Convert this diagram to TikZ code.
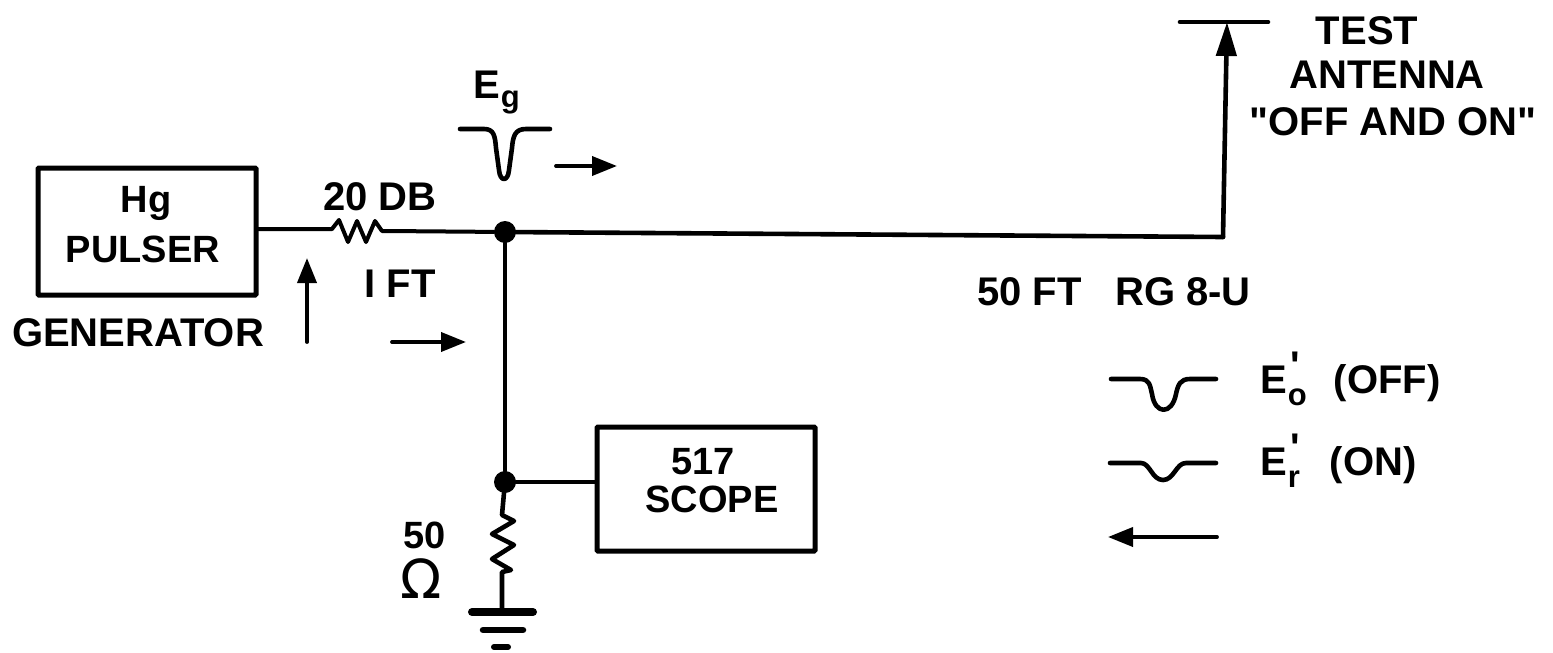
\documentclass[tikz,border=0pt]{standalone}
\usepackage{fontspec}
\setmainfont{Liberation Sans}
\newfontfamily\letfont{Liberation Sans}
\newfontfamily\omfont{DejaVu Sans}
\usetikzlibrary{arrows.meta}
\newcommand{\subtxt}[1]{\fontsize{31}{31}\selectfont #1}
\newcommand{\primesub}[1]{E\rlap{\hspace{4pt}\raisebox{14pt}{'}}\raisebox{-12pt}{\hspace{1pt}\subtxt{#1}}}
\tikzset{
  lbl/.style={inner sep=0pt,anchor=base,font=\letfont\bfseries\fontsize{40}{40}\selectfont,text=black},
  lbs/.style={lbl,font=\letfont\bfseries\fontsize{38}{38}\selectfont},
  blk/.style={draw=black,line width=5pt,fill=white,inner sep=0pt,rounded corners=1pt},
  wire/.style={draw=black,line width=4.6pt,line cap=round,line join=round},
  thin wire/.style={draw=black,line width=4pt,line cap=round,line join=round},
  dot/.style={circle,fill=black,inner sep=0pt,minimum size=22pt},
  flow/.style={draw=black,line width=3.8pt,line cap=round,-{Triangle[length=25pt,width=19pt]}},
}
\begin{document}
\begin{tikzpicture}[x=1pt,y=-1pt]
\useasboundingbox (0,0) rectangle (1553,653);
\node[blk,minimum width=218pt,minimum height=127pt] (pulser) at (147,231.5) {};
\node[blk,minimum width=218pt,minimum height=124pt] (scope) at (706,489) {};
\node[lbs] (hg) at (146,212) {Hg};
\node[lbs] (pulsertxt) at (143,262) {PULSER};
\node[lbl] (gen) at (138,346) {GENERATOR};
\node[lbl] (db) at (380,210) {20 DB};
\node[lbl] (ft) at (400,297) {I FT};
\node[lbs] (s517) at (703,474) {517};
\node[lbs] (scopetxt) at (712,512) {SCOPE};
\node[lbs] (fifty) at (425,548) {50};
\node[lbl,font=\omfont\fontsize{54}{54}\selectfont] (ohm) at (421,598) {Ω};
\node[lbl] (test) at (1367,44) {TEST};
\node[lbl] (ant) at (1387,88) {ANTENNA};
\node[lbl] (offon) at (1393,135) {"OFF AND ON"};
\node[lbl] (rg) at (1114,305) {50 FT\ \ \ RG 8-U};
\node[lbl,anchor=base west] (eg) at (473,98) {E\raisebox{-9pt}{\hspace{1pt}\subtxt{g}}};
\node[lbl,anchor=base west] (e0) at (1260,393) {\primesub{o}\hspace{27pt}(OFF)};
\node[lbl,anchor=base west] (er) at (1260,475) {\primesub{r}\hspace{30pt}(ON)};

\node[dot] (j1) at (505,232) {};
\node[dot] (j2) at (505,482) {};
\coordinate (r1a) at (327,229);
\coordinate (r1b) at (387,231);
\coordinate (r2a) at (502,515);
\coordinate (r2b) at (502,572);
\coordinate (bend) at (1223,237);
\coordinate (tip) at (1227,22);
\coordinate (gnd) at (502,612);
\draw[thin wire] (pulser.east |- r1a) -- (r1a)
  -- (332,229) -- (339,220) -- (348,242) -- (357,221) -- (366,242) -- (375,221) -- (382,231) -- (r1b) -- (j1);
\draw[wire] (j1) -- (bend);
\draw[wire,-{Triangle[length=34pt,width=20pt]}] (bend) -- (tip);
\draw[wire] (1180,22) -- (1268,22);
\draw[wire] (j1) -- (j2);
\draw[wire] (j2) -- (scope.west |- j2);
\draw[wire] (j2) -- (r2a) -- (514,521) -- (492,534) -- (514,545) -- (492,559) -- (511,570) -- (r2b) -- (gnd);
\draw[line width=8pt,line cap=round] (472,612) -- (533,612);
\draw[line width=6.5pt,line cap=round] (483,630) -- (523,630);
\draw[line width=6pt,line cap=round] (494,647) -- (508,647);
% pulses
\draw[wire] (460,129) -- (484,129) .. controls (494,129) and (495,136) .. (496,148) -- (499,170) .. controls (500,182) and (508,182) .. (509,170) -- (512,148) .. controls (513,136) and (515,129) .. (526,129) -- (550,129);
\draw[wire] (1111,379) -- (1140,379) .. controls (1150,379) and (1150,386) .. (1152,394) .. controls (1155,415) and (1172,415) .. (1176,394) .. controls (1178,385) and (1180,379) .. (1190,379) -- (1216,379);
\draw[wire] (1110,463) -- (1141,463) .. controls (1150,463) and (1152,480) .. (1163,480) .. controls (1174,480) and (1176,463) .. (1186,463) -- (1216,463);
% flow arrows
\coordinate (a1s) at (556,166); \coordinate (a1e) at (617,166);
\coordinate (a2s) at (307,342); \coordinate (a2e) at (307,258);
\coordinate (a3s) at (392,342); \coordinate (a3e) at (466,342);
\coordinate (a4s) at (1217,537); \coordinate (a4e) at (1108,537);
\draw[flow] (a1s) -- (a1e);
\draw[flow] (a2s) -- (a2e);
\draw[flow] (a3s) -- (a3e);
\draw[flow] (a4s) -- (a4e);
\end{tikzpicture}
\end{document}
